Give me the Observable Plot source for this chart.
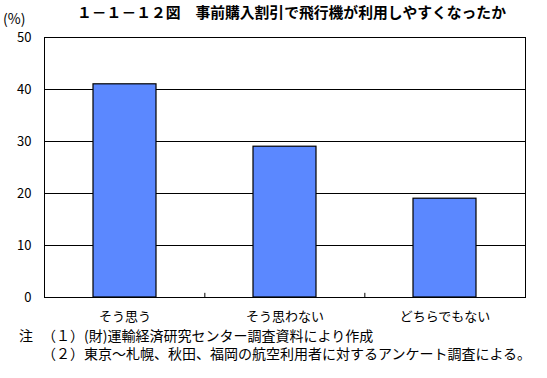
<!DOCTYPE html>
<html><head><meta charset="utf-8">
<script src="https://cdn.jsdelivr.net/npm/d3@7"></script>
<script src="https://cdn.jsdelivr.net/npm/@observablehq/plot@0.6"></script>
<style>
body{margin:0;background:#fff;}
#wrap{position:relative;width:547px;height:378px;font-family:"Noto Sans CJK JP",sans-serif;color:#000;overflow:hidden;}
#wrap svg{position:absolute;left:0;top:0;}
.t{position:absolute;white-space:nowrap;line-height:1;}
</style></head><body>
<div id="wrap"></div>
<script>
const categories = ["そう思う", "そう思わない", "どちらでもない"];
const values = [41, 29, 19];
const yTicks = [0, 10, 20, 30, 40, 50];
const titleText = "１－１－１２図　事前購入割引で飛行機が利用しやすくなったか";
const unitText = "(%)";
const noteHead = "注";
const notes = ["（１）(財)運輸経済研究センター調査資料により作成", "（２）東京～札幌、秋田、福岡の航空利用者に対するアンケート調査による。"];

const W = 547, H = 378, mL = 44, mR = 22, mT = 37, mB = 81;
const data = categories.map((c, i) => ({category: c, value: values[i]}));
const step = (W - mL - mR) / categories.length;

const chart = Plot.plot({
  width: W, height: H,
  marginLeft: mL, marginRight: mR, marginTop: mT, marginBottom: mB,
  style: {fontFamily: '"Noto Sans CJK JP", sans-serif', fontSize: "13px", color: "#000", background: "#fff"},
  x: {domain: categories, paddingInner: 0.605, paddingOuter: 0.3025, label: null},
  y: {domain: [0, 50], label: null},
  marks: [
    Plot.ruleY(yTicks, {stroke: "#000", strokeOpacity: 1}),
    Plot.barY(data, {x: "category", y: "value", fill: "#5b88ff", stroke: "#000", strokeWidth: 1.2}),
    Plot.ruleX(categories.slice(1), {x: d => d, y1: 0, y2: 0.8, dx: -step / 2, stroke: "#000"}),
    Plot.frame({stroke: "#000"}),
    Plot.axisY(yTicks, {tickSize: 0, tickPadding: 13, fontSize: 13, label: null}),
    Plot.axisX({tickSize: 0, tickPadding: 14, fontSize: 13, label: null})
  ]
});

const wrap = document.getElementById("wrap");
wrap.appendChild(chart);
function addText(txt, left, top, size, extra) {
  const d = document.createElement("div");
  d.className = "t";
  d.textContent = txt;
  d.style.left = left + "px";
  d.style.top = top + "px";
  d.style.fontSize = size + "px";
  if (extra) Object.assign(d.style, extra);
  wrap.appendChild(d);
}
addText(titleText, 77, 5, 14.8, {fontWeight: "bold"});
addText(unitText, 3, 11, 14);
addText(noteHead, 19, 328, 14);
addText(notes[0], 42, 328, 14);
addText(notes[1], 42, 346, 14);
</script>
</body></html>
